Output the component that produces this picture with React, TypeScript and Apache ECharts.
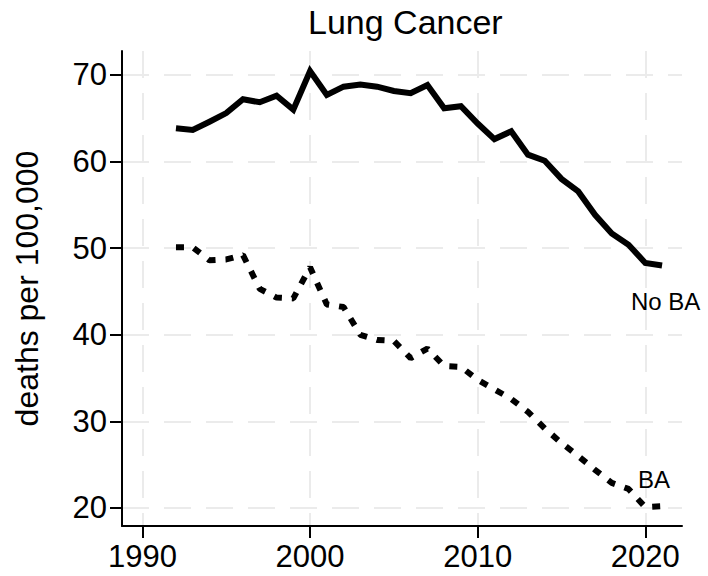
import React, { useEffect, useRef } from "react";
import * as echarts from "echarts";

const years = [1992,1993,1994,1995,1996,1997,1998,1999,2000,2001,2002,2003,2004,2005,2006,2007,2008,2009,2010,2011,2012,2013,2014,2015,2016,2017,2018,2019,2020,2021];
const noBA = [63.85,63.65,64.6,65.6,67.2,66.85,67.6,66.0,70.45,67.7,68.65,68.9,68.65,68.15,67.9,68.85,66.15,66.4,64.4,62.6,63.5,60.8,60.1,58.0,56.55,53.85,51.7,50.4,48.3,48.0];
const ba = [50.1,50.1,48.6,48.7,49.2,45.3,44.3,44.2,47.8,43.5,43.2,40.0,39.4,39.3,37.3,38.4,36.4,36.3,34.8,33.7,32.6,31.1,29.2,27.5,26.0,24.4,22.9,22.2,20.1,20.2];
const xTicks = [1990, 2000, 2010, 2020];
const yTicks = [20, 30, 40, 50, 60, 70];
const title = "Lung Cancer";
const yName = "deaths per 100,000";
const seriesNames = ["No BA", "BA"];

const FONT = "Liberation Sans, Arial, Helvetica, sans-serif";

export default function App() {
  const ref = useRef<HTMLDivElement>(null);
  useEffect(() => {
    const chart = echarts.init(ref.current!, null, { renderer: "svg" });
    const grid = { left: 122, right: 26, top: 51, bottom: 50 };
    const gridLine = { show: true, lineStyle: { color: "#ebebeb", width: 2, type: [27, 15] as any } };
    chart.setOption({
      animation: false,
      backgroundColor: "#ffffff",
      title: {
        text: title,
        left: 303,
        top: 0,
        textStyle: { fontFamily: FONT, fontSize: 34, fontWeight: "normal", color: "#000" },
      },
      grid,
      xAxis: {
        type: "value",
        min: 1988.78,
        max: 2022.19,
        axisLine: { show: true, onZero: false, lineStyle: { color: "#000", width: 2 } },
        axisTick: { show: true, length: 12, customValues: xTicks, lineStyle: { color: "#000", width: 2 } },
        axisLabel: {
          customValues: xTicks,
          margin: 15,
          fontFamily: FONT,
          fontSize: 31,
          color: "#000",
          formatter: (v: number) => String(Math.round(v)),
        },
        splitLine: gridLine,
      },
      yAxis: {
        type: "value",
        min: 17.92,
        max: 72.77,
        name: yName,
        nameLocation: "middle",
        nameGap: 79,
        nameTextStyle: { fontFamily: FONT, fontSize: 32, color: "#000" },
        axisLine: { show: true, onZero: false, lineStyle: { color: "#000", width: 2 } },
        axisTick: { show: true, length: 12, customValues: yTicks, lineStyle: { color: "#000", width: 2 } },
        axisLabel: { customValues: yTicks, margin: 15, fontFamily: FONT, fontSize: 31, color: "#000" },
        splitLine: gridLine,
      },
      series: [
        {
          name: seriesNames[0],
          type: "line",
          data: years.map((y, i) => [y, noBA[i]]),
          showSymbol: false,
          symbol: "none",
          lineStyle: { color: "#000", width: 6, join: "miter" },
        },
        {
          name: seriesNames[1],
          type: "line",
          data: years.map((y, i) => [y, ba[i]]),
          showSymbol: false,
          symbol: "none",
          lineStyle: { color: "#000", width: 6, type: [8, 10] as any, cap: "butt" },
        },
      ],
      graphic: [
        { type: "text", z: 100, left: 631, top: 289, style: { text: seriesNames[0], font: `24px ${FONT}`, fill: "#000" } },
        { type: "text", z: 100, left: 638, top: 467, style: { text: seriesNames[1], font: `24px ${FONT}`, fill: "#000" } },
      ],
    });
    return () => chart.dispose();
  }, []);
  return <div ref={ref} style={{ position: "fixed", left: 0, top: 0, width: 708, height: 576 }} />;
}
